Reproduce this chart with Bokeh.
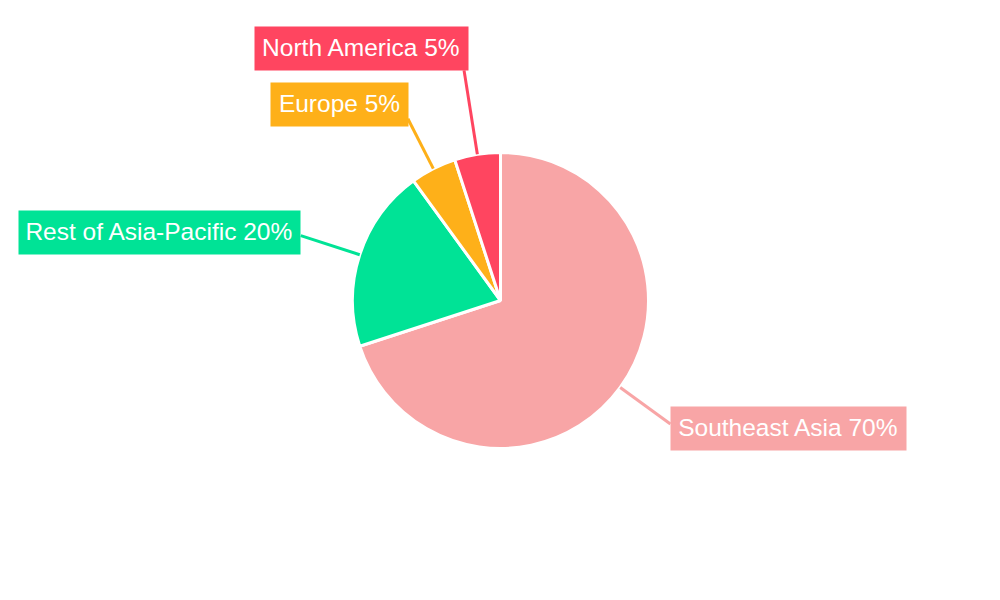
import math
from bokeh.plotting import figure
from bokeh.models import Range1d, ColumnDataSource
from bokeh.core.properties import value
from bokeh.embed import file_html
from bokeh.resources import INLINE

# ---- data ----
regions = ["Southeast Asia", "Rest of Asia-Pacific", "Europe", "North America"]
shares = [70, 20, 5, 5]
colors = ["#F8A5A6", "#00E396", "#FEB019", "#FF4560"]

# ---- layout (screen pixel coordinates of the page) ----
H = 600
CX, CY, R = 500, 300, 148
leader_r = [210, 210, 204, 233]
# label box: centre x, centre y (screen), width
box_cx = [788, 159, 339, 361]
box_cy = [428, 232, 104, 48]
box_w = [236, 282, 138, 214]
BOX_H = 44

def sy(y):
    return H - y

p = figure(width=984, height=584, output_backend="svg", toolbar_location=None,
           x_range=Range1d(0, 984), y_range=Range1d(16, 600), min_border=0)
p.axis.visible = False
p.grid.visible = False
p.outline_line_color = None
p.background_fill_color = "white"
p.border_fill_color = "white"

total = float(sum(shares))
starts, ends, mids = [], [], []
c = 0.0
for s in shares:
    c0 = c
    c1 = c + s / total
    starts.append(math.pi / 2 - 2 * math.pi * c1)
    ends.append(math.pi / 2 - 2 * math.pi * c0)
    mids.append(math.pi / 2 - 2 * math.pi * (c0 + c1) / 2)
    c = c1

src = ColumnDataSource(dict(start=starts, end=ends, color=colors))
p.wedge(x=CX, y=sy(CY), radius=R, radius_units="screen", start_angle="start", end_angle="end",
        fill_color="color", line_color="white", line_width=3, source=src)

# leader lines
x0 = [CX + R * math.cos(a) for a in mids]
y0 = [sy(CY) + R * math.sin(a) for a in mids]
x1 = [CX + lr * math.cos(a) for a, lr in zip(mids, leader_r)]
y1 = [sy(CY) + lr * math.sin(a) for a, lr in zip(mids, leader_r)]
p.segment(x0=x0, y0=y0, x1=x1, y1=y1, line_color=colors, line_width=3)

# label boxes
labels = [f"{r} {s}%" for r, s in zip(regions, shares)]
p.rect(x=box_cx, y=[sy(v) for v in box_cy], width=box_w, height=[BOX_H] * 4,
       fill_color=colors, line_color=None)
p.text(x=box_cx, y=[sy(v) + 1 for v in box_cy], text=labels, text_color="white",
       text_font=value("Liberation Sans"), text_font_size="24.5px",
       text_align="center", text_baseline="middle")

open("out.html", "w").write(file_html(p, INLINE))
